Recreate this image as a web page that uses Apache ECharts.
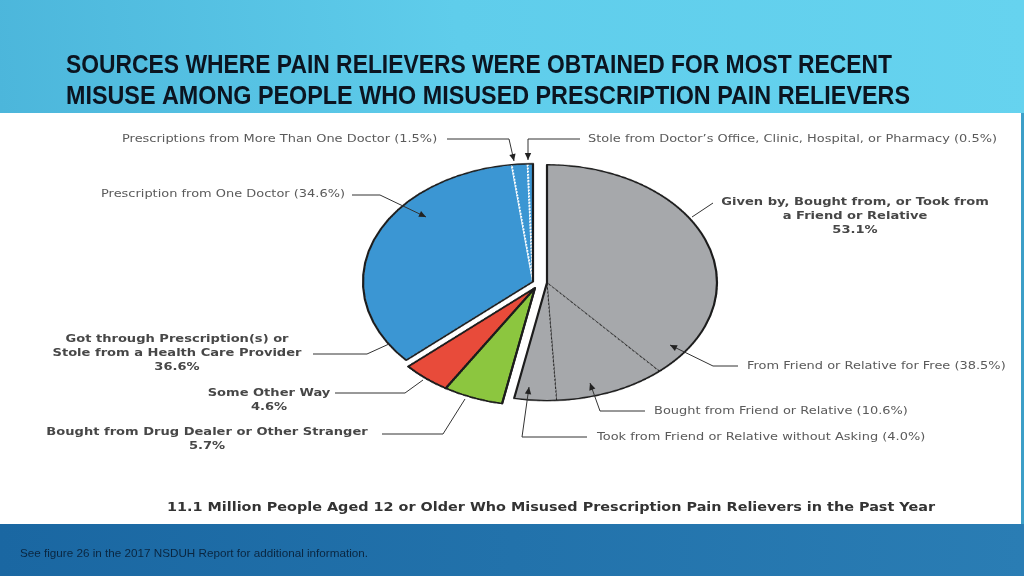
<!DOCTYPE html>
<html><head><meta charset="utf-8">
<script src="https://cdn.jsdelivr.net/npm/echarts@6/dist/echarts.min.js"></script>
<style>
html,body{margin:0;padding:0;width:1024px;height:576px;overflow:hidden;background:#fff}
#bg,#ann{position:absolute;left:0;top:0;width:1024px;height:576px}
#pie{position:absolute;left:320px;top:130.3px;width:440px;height:440px;transform-origin:0 0;transform:scaleY(0.694)}
#ann{pointer-events:none}
</style></head><body>
<div id="bg"></div><div id="pie"></div><div id="ann"></div>
<script>
// ---------- DATA ----------
const titleLines = ['SOURCES WHERE PAIN RELIEVERS WERE OBTAINED FOR MOST RECENT',
                    'MISUSE AMONG PEOPLE WHO MISUSED PRESCRIPTION PAIN RELIEVERS'];
const categories = ['From Friend or Relative for Free', 'Bought from Friend or Relative',
  'Took from Friend or Relative without Asking', 'Bought from Drug Dealer or Other Stranger',
  'Some Other Way', 'Prescription from One Doctor', 'Prescriptions from More Than One Doctor',
  "Stole from Doctor\u2019s Office, Clinic, Hospital, or Pharmacy"];
const values = [38.5, 10.6, 4.0, 5.7, 4.6, 34.6, 1.5, 0.5];
const memberOf = [0, 0, 0, 1, 2, 3, 3, 3];
const groupNames = [['Given by, Bought from, or Took from', 'a Friend or Relative'],
  ['Bought from Drug Dealer or Other Stranger'], ['Some Other Way'],
  ['Got through Prescription(s) or', 'Stole from a Health Care Provider']];
const groupValues = [53.1, 5.7, 4.6, 36.6];
const caption = '11.1 Million People Aged 12 or Older Who Misused Prescription Pain Relievers in the Past Year';
const footnote = 'See figure 26 in the 2017 NSDUH Report for additional information.';

// ---------- text helpers ----------
const mctx = document.createElement('canvas').getContext('2d');
function measure(t, font){ mctx.font = font; return mctx.measureText(t).width; }
function fitScale(t, font, w){ return w / measure(t, font); }
function textEl(t, x, y, font, fill, align, sx){
  return {type:'text', x:x, y:y, scaleX:sx||1, silent:true,
    style:{text:t, x:0, y:0, font:font, fill:fill, textAlign:align||'left', textVerticalAlign:'middle'}};
}

// ---------- BACKGROUND ----------
const titleFont = 'bold 25px "Liberation Sans"';
const capFont = 'bold 12px "DejaVu Sans"';
const footFont = '11px "Liberation Sans"';
const bg = echarts.init(document.getElementById('bg'));
bg.setOption({
  animation: false,
  graphic: [
    {type:'rect', shape:{x:0,y:0,width:1024,height:113}, style:{fill:{type:'linear',x:0,y:1,x2:1,y2:0,colorStops:[{offset:0,color:'#4cb6db'},{offset:0.45,color:'#5fcdeb'},{offset:1,color:'#66d3ef'}]}}},
    {type:'rect', shape:{x:0,y:113,width:1024,height:411}, style:{fill:'#ffffff'}},
    {type:'rect', shape:{x:1021,y:113,width:3,height:411}, style:{fill:'#3c9fc8'}},
    {type:'rect', shape:{x:0,y:524,width:1024,height:52}, style:{fill:{type:'linear',x:0,y:0,x2:1,y2:0,colorStops:[{offset:0,color:'#1a67a2'},{offset:1,color:'#2a7db4'}]}}},
    textEl(titleLines[0], 66, 66, titleFont, '#0b1420', 'left', fitScale(titleLines[0], titleFont, 826)),
    textEl(titleLines[1], 66, 97, titleFont, '#0b1420', 'left', fitScale(titleLines[1], titleFont, 844)),
    textEl(caption, 167, 508, capFont, '#333333', 'left', fitScale(caption, capFont, 768)),
    textEl(footnote, 20, 554, footFont, '#0a2640', 'left', fitScale(footnote, footFont, 348))
  ]
});

// ---------- PIE (ellipse via CSS scaleY) ----------
const colors = {0:'#a6a8ab', 1:'#8cc63f', 2:'#e84b3a', 3:'#3b96d3'};
const hidden = {color:'rgba(0,0,0,0)', borderWidth:0};
const outline = '#1c1c1c';
function subStyle(g){
  if (g === 0) return {color:colors[0], borderColor:'#2a2a2a', borderWidth:1.1, borderType:[3,2.5]};
  if (g === 3) return {color:colors[3], borderColor:'#ffffff', borderWidth:1.9, borderType:[2.5,2]};
  return {color:colors[g], borderColor:outline, borderWidth:2};
}
const layers = [
  {groups:[0], center:[227,220]},
  {groups:[1,2], center:[215,227.5]},
  {groups:[3], center:[213,218.5]}
];
const pieSeries = [];
layers.forEach(L => {
  pieSeries.push({
    type:'pie', radius:[0,170], center:L.center, startAngle:90, clockwise:true,
    silent:true, label:{show:false}, labelLine:{show:false}, emphasis:{disabled:true},
    data: values.map((v,i) => ({value:v, name:categories[i],
      itemStyle: L.groups.includes(memberOf[i]) ? subStyle(memberOf[i]) : hidden}))
  });
  pieSeries.push({
    type:'pie', radius:[0,170], center:L.center, startAngle:90, clockwise:true,
    silent:true, label:{show:false}, labelLine:{show:false}, emphasis:{disabled:true},
    data: groupValues.map((v,g) => ({value:v, name:groupNames[g].join(' '),
      itemStyle: L.groups.includes(g) ? {color:'rgba(0,0,0,0)', borderColor:outline, borderWidth:2.2} : hidden}))
  });
});
const pie = echarts.init(document.getElementById('pie'));
pie.setOption({animation:false, series:pieSeries});

// ---------- ANNOTATIONS ----------
const pct = v => '(' + v.toFixed(1) + '%)';
const regFont = '10.5px "DejaVu Sans"';
const boldFont = 'bold 10.5px "DejaVu Sans"';
const regScale = fitScale(categories[7] + ' ' + pct(values[7]), regFont, 409);
const boldScale = fitScale(groupNames[3][1], boldFont, 249);
const labelColor = '#5a5a5a';
const boldColor = '#474747';
const g = [];
function txt(t, x, y, bold, align){
  g.push(textEl(t, x, y, bold ? boldFont : regFont, bold ? boldColor : labelColor, align, bold ? boldScale : regScale));
}
function leader(pts, arrow){
  g.push({type:'polyline', shape:{points:pts}, style:{stroke:'#333', lineWidth:1, fill:null}});
  if (arrow){
    const a = pts[pts.length-1], b = pts[pts.length-2];
    const dx = a[0]-b[0], dy = a[1]-b[1], len = Math.hypot(dx,dy), ux = dx/len, uy = dy/len;
    const L = 7, W = 3.2;
    g.push({type:'polygon', shape:{points:[a,[a[0]-ux*L-uy*W, a[1]-uy*L+ux*W],[a[0]-ux*L+uy*W, a[1]-uy*L-ux*W]]}, style:{fill:'#222'}});
  }
}
// sub-slice labels
txt(categories[6] + ' ' + pct(values[6]), 122, 139, false);
leader([[447,139],[509,139],[514,161]], true);
txt(categories[7] + ' ' + pct(values[7]), 588, 139, false);
leader([[580,139],[528,139],[528,160]], true);
txt(categories[5] + ' ' + pct(values[5]), 101, 194, false);
leader([[352,195],[380,195],[426,217]], true);
txt(categories[0] + ' ' + pct(values[0]), 747, 366, false);
leader([[738,366],[713,366],[670,345]], true);
txt(categories[1] + ' ' + pct(values[1]), 654, 411, false);
leader([[645,411],[600,411],[590,383]], true);
txt(categories[2] + ' ' + pct(values[2]), 597, 437, false);
leader([[587,437],[522,437],[529,387]], true);
// group labels (bold)
txt(groupNames[0][0], 855, 202, true, 'center');
txt(groupNames[0][1], 855, 216, true, 'center');
txt(groupValues[0].toFixed(1) + '%', 855, 230, true, 'center');
leader([[713,203],[692,217]], false);
txt(groupNames[3][0], 177, 339, true, 'center');
txt(groupNames[3][1], 177, 353, true, 'center');
txt(groupValues[3].toFixed(1) + '%', 177, 367, true, 'center');
leader([[313,354],[367,354],[389,344]], false);
txt(groupNames[2][0], 269, 393, true, 'center');
txt(groupValues[2].toFixed(1) + '%', 269, 407, true, 'center');
leader([[335,393],[405,393],[423,380]], false);
txt(groupNames[1][0], 207, 432, true, 'center');
txt(groupValues[1].toFixed(1) + '%', 207, 446, true, 'center');
leader([[382,434],[443,434],[465,399]], false);

const ann = echarts.init(document.getElementById('ann'));
ann.setOption({animation:false, graphic:g});
</script>
</body></html>
